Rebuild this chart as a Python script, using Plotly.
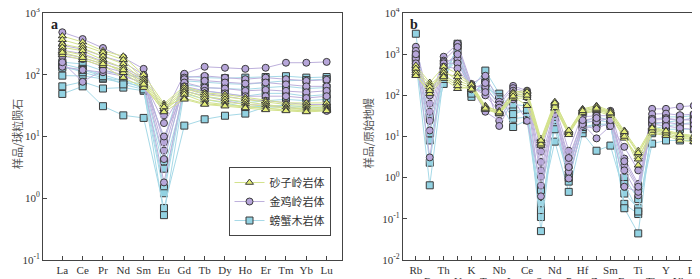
import plotly.graph_objects as go

# ---------------- data ----------------
ree = ["La", "Ce", "Pr", "Nd", "Sm", "Eu", "Gd", "Tb", "Dy", "Ho", "Er", "Tm", "Yb", "Lu"]
spider = ["Rb", "Ba", "Th", "U", "K", "Ta", "Nb", "La", "Ce", "Sr", "Nd", "P", "Hf", "Zr",
          "Sm", "Eu", "Ti", "Tb", "Y", "Yb", "Lu"]

group_names = ["砂子岭岩体", "金鸡岭岩体", "螃蟹木岩体"]

# chondrite-normalised REE (panel a)
ree_szl = [
    [425, 340, 245, 200, 100, 34, 65, 51, 48, 43, 38, 35, 35, 35],
    [370, 300, 230, 175, 86, 32, 60, 48, 44, 40, 36, 33, 32, 31],
    [315, 270, 200, 150, 80, 30, 55, 44, 40, 36, 33, 30, 30, 29],
    [280, 245, 175, 130, 74, 28, 52, 40, 36, 33, 31, 29, 28, 28],
    [245, 210, 160, 108, 66, 26, 48, 36, 33, 31, 29, 27, 27, 27],
    [210, 175, 140, 90, 62, 30, 42, 34, 32, 30, 28, 27, 26, 27],
    [230, 190, 150, 120, 70, 25, 40, 33, 31, 29, 27, 26, 25, 26],
]
ree_jjl = [
    [490, 380, 272, 190, 125, 22, 104, 135, 130, 125, 130, 157, 157, 162],
    [300, 260, 200, 160, 100, 8, 90, 96, 90, 85, 90, 85, 80, 83],
    [250, 220, 165, 130, 90, 5.9, 85, 80, 75, 72, 75, 70, 65, 65],
    [220, 190, 150, 120, 85, 4.3, 75, 62, 60, 55, 57, 55, 52, 55],
    [135, 120, 110, 95, 75, 1.8, 65, 55, 50, 45, 45, 45, 42, 45],
    [200, 180, 135, 110, 80, 16.5, 60, 50, 45, 40, 38, 35, 33, 33],
    [160, 77, 120, 100, 70, 10, 55, 45, 38, 33, 32, 30, 27, 26],
]
ree_pxm = [
    [160, 150, 116, 100, 90, 9, 95, 90, 88, 90, 92, 95, 90, 92],
    [150, 125, 100, 80, 70, 4.0, 80, 75, 72, 70, 75, 80, 82, 85],
    [97, 96, 86, 75, 65, 1.45, 70, 62, 60, 58, 62, 65, 60, 62],
    [65, 77, 60, 62, 55, 1.2, 60, 55, 50, 45, 50, 50, 45, 48],
    [49, 65, 31, 22, 20, 0.69, 15, 19, 21.7, 23.5, 30, 30, 28, 28],
    [140, 110, 90, 80, 60, 0.53, 55, 45, 40, 35, 38, 40, 38, 40],
    [130, 120, 95, 70, 58, 3.0, 50, 40, 35, 30, 31, 32, 30, 30],
]

# primitive-mantle-normalised trace elements (panel b)
tr_szl = [
    [530, 205, 500, 335, 190, 56, 40, 120, 130, 8.8, 70, 14, 47, 56, 42, 14, 4.5, 17, 14, 11.7, 10.5],
    [400, 145, 400, 230, 170, 47, 38, 100, 110, 7.9, 60, 12, 40, 50, 38, 12, 3.8, 15, 13, 10.5, 9.5],
    [320, 110, 255, 145, 160, 50, 35, 83, 88, 6, 47, 13, 36, 42, 32, 9, 3.2, 13, 11, 9, 8.5],
    [450, 180, 350, 280, 180, 52, 42, 110, 120, 7, 55, 12.5, 45, 52, 40, 11, 2.0, 12, 10.5, 8, 7.5],
    [350, 160, 300, 200, 150, 45, 36, 90, 100, 6.5, 50, 11, 38, 45, 35, 10, 2.8, 14, 12, 9.5, 9],
    [300, 130, 280, 170, 140, 48, 39, 95, 56, 8, 65, 14, 42, 48, 37, 13, 4, 16, 13.5, 11, 10],
]
tr_jjl = [
    [1520, 63, 870, 1800, 190, 300, 70, 170, 130, 4.3, 57, 4.5, 36, 42, 42, 2.9, 0.7, 47, 47, 53, 56],
    [1210, 40, 700, 1500, 170, 160, 60, 150, 120, 2.4, 50, 2.2, 30, 32, 32, 2, 0.54, 35, 36, 33, 35],
    [920, 24, 650, 780, 160, 100, 40, 130, 110, 1.5, 45, 1.4, 24, 23, 28, 1.5, 0.37, 27, 28, 25, 27],
    [780, 14, 550, 1000, 150, 40, 24, 100, 90, 1.05, 40, 0.95, 18, 15.5, 22, 0.6, 0.45, 22, 22, 20, 20],
    [1000, 3.1, 600, 600, 140, 200, 18, 80, 24, 0.64, 35, 1.8, 20, 9, 18, 5.6, 1.5, 20, 18, 16, 15],
    [600, 100, 500, 450, 150, 120, 50, 110, 100, 0.35, 45, 3, 25, 28, 25, 2.5, 0.6, 25, 26, 25, 25],
]
tr_pxm = [
    [3150, 8, 190, 1800, 145, 400, 110, 43, 40, 0.23, 7.5, 0.45, 12, 4.5, 6, 0.41, 0.18, 6.7, 8, 8, 8],
    [1000, 2.3, 400, 1200, 92, 250, 90, 27, 30, 0.16, 20, 1.2, 15, 20, 20, 0.23, 0.13, 15, 18, 20, 22],
    [700, 0.65, 300, 900, 120, 180, 75, 17, 25, 0.11, 25, 0.8, 20, 25, 22, 0.18, 0.044, 20, 22, 25, 28],
    [500, 12, 350, 700, 130, 150, 60, 60, 55, 0.05, 30, 2, 22, 30, 25, 1.0, 0.3, 25, 30, 30, 32],
    [800, 30, 250, 1600, 110, 200, 80, 35, 45, 0.5, 15, 1, 17, 20, 18, 0.7, 0.15, 12, 15, 15, 15],
]

ya_ticks = [0.1, 1, 10, 100, 1000]
ya_text = ["10<sup>-1</sup>", "10<sup>0</sup>", "10<sup>1</sup>", "10<sup>2</sup>", "10<sup>3</sup>"]
yb_ticks = [0.01, 0.1, 1, 10, 100, 1000, 10000]
yb_text = ["10<sup>-2</sup>", "10<sup>-1</sup>", "10<sup>0</sup>", "10<sup>1</sup>",
           "10<sup>2</sup>", "10<sup>3</sup>", "10<sup>4</sup>"]

# ---------------- styles ----------------
styles = {
    "砂子岭岩体": dict(symbol="triangle-up", fill="#e4ee78", line="#d3e28c", rank=1),
    "金鸡岭岩体": dict(symbol="circle", fill="#b7a6da", line="#bdb0dc", rank=2),
    "螃蟹木岩体": dict(symbol="square", fill="#92d2e2", line="#a6d9e7", rank=3),
}

fig = go.Figure()

def add_group(name, rows, cats, xaxis, yaxis, show):
    st = styles[name]
    for i, row in enumerate(rows):
        fig.add_trace(go.Scatter(
            x=list(range(len(cats))), y=row, mode="lines+markers",
            xaxis=xaxis, yaxis=yaxis, name=name, legendgroup=name,
            showlegend=(show and i == 0), legendrank=st["rank"],
            line=dict(color=st["line"], width=1),
            marker=dict(symbol=st["symbol"], size=7, color=st["fill"],
                        line=dict(color="#3a3a3a", width=1)),
        ))

order = [("螃蟹木岩体", ree_pxm, tr_pxm), ("金鸡岭岩体", ree_jjl, tr_jjl), ("砂子岭岩体", ree_szl, tr_szl)]
for name, ra, rb in order:
    add_group(name, ra, ree, "x", "y", True)
for name, ra, rb in order:
    add_group(name, rb, spider, "x2", "y2", False)

axis_font = dict(family="Liberation Serif, Times New Roman, serif", size=11, color="#333")
frame = dict(showline=True, linecolor="#444", linewidth=1, mirror=True, showgrid=False,
             zeroline=False, ticks="inside", ticklen=4, tickcolor="#444", tickfont=axis_font,
             ticklabeloverflow="allow", automargin=False)

# staggered labels: even indices on the axis, odd indices as a second row below
spider_row1 = [c if i % 2 == 0 else "" for i, c in enumerate(spider)]
row2_annots = [
    dict(text=c, x=i, xref="x2", y=1 - 273 / 279, yref="paper", showarrow=False,
         xanchor="center", yanchor="middle", font=axis_font)
    for i, c in enumerate(spider) if i % 2 == 1
]

fig.update_layout(
    width=700, height=279, margin=dict(l=0, r=0, t=0, b=0, autoexpand=False),
    paper_bgcolor="white", plot_bgcolor="white",
    showlegend=True,
    xaxis=dict(domain=[0.05, 0.477], range=[-0.95, 13.75], tickvals=list(range(len(ree))),
               ticktext=ree, tickangle=0, **frame),
    yaxis=dict(domain=[0.097, 0.982], type="log", range=[-1.002, 3.002], tickvals=ya_ticks,
               ticktext=ya_text, anchor="x", **frame),
    xaxis2=dict(domain=[0.564, 0.997], range=[-0.94, 20.87], tickvals=list(range(len(spider))),
                ticktext=spider_row1, tickangle=0, anchor="y2", **frame),
    yaxis2=dict(domain=[0.097, 0.982], type="log", range=[-2.002, 4.002], tickvals=yb_ticks,
                ticktext=yb_text, anchor="x2", **frame),
    legend=dict(x=0.315, y=0.43, xanchor="left", yanchor="top",
                bordercolor="#444", borderwidth=1, bgcolor="white",
                font=dict(family="Noto Sans CJK SC", size=11, color="#333"),
                itemwidth=30, tracegroupgap=0),
    annotations=[
        dict(text="<b>a</b>", x=0.058, y=0.975, xref="paper", yref="paper", showarrow=False,
             xanchor="left", yanchor="top", font=dict(family="Liberation Serif", size=14, color="#222")),
        dict(text="<b>b</b>", x=0.572, y=0.975, xref="paper", yref="paper", showarrow=False,
             xanchor="left", yanchor="top", font=dict(family="Liberation Serif", size=14, color="#222")),
        dict(text="样品/球粒陨石", x=0.012, y=0.55, xref="paper", yref="paper", showarrow=False,
             xanchor="center", yanchor="middle",
             textangle=-90, font=dict(family="Noto Sans CJK SC", size=11, color="#555")),
        dict(text="样品/原始地幔", x=0.514, y=0.55, xref="paper", yref="paper", showarrow=False,
             xanchor="center", yanchor="middle",
             textangle=-90, font=dict(family="Noto Sans CJK SC", size=11, color="#555")),
    ] + row2_annots,
)

fig.write_html("out.html")
